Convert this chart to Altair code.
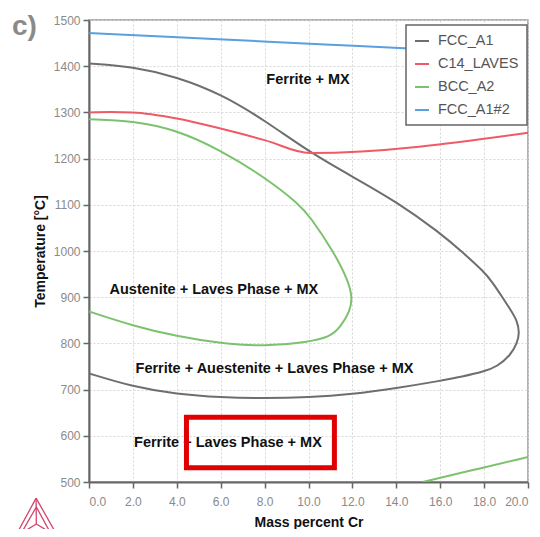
import altair as alt
import pandas as pd

# ---- data ----
fcc_x = [0, 2, 4, 6, 8, 10.07, 12, 14, 16, 17, 18, 18.4, 18.86, 19.2, 19.5, 19.62, 19.5, 19.2, 18.6, 18, 17, 16, 14, 12, 10, 8, 6, 4, 2, 0]
fcc_T = [1406, 1399, 1377, 1340, 1283, 1213, 1161, 1107, 1039, 998, 955, 931, 898, 873, 850, 823, 800, 774, 750, 739, 728, 719, 703, 690, 683, 681, 683, 690, 706, 735]

laves_x = [0, 1, 2, 4, 6, 8, 10.07, 20.0]
laves_T = [1300, 1301, 1300, 1287, 1265, 1240, 1212, 1256]

bcc_x = [0, 2, 4, 6, 8, 9.61, 10.07, 11.13, 11.8, 12.0, 11.9, 11.45, 10.98, 10, 8, 6, 4, 2, 0]
bcc_T = [1285, 1282, 1262, 1218, 1160, 1100, 1074, 1000, 937, 900, 870, 835, 814, 803, 793, 800, 815, 838, 869]
bcc2_x = [15.2, 17.5, 20.0]
bcc2_T = [500, 526, 554]

fcc2_x = [0, 4, 8.25, 12, 16, 20]
fcc2_T = [1472, 1463, 1453, 1444, 1435, 1426]

phases = ["FCC_A1", "C14_LAVES", "BCC_A2", "FCC_A1#2"]
phase_colors = ["#6e6e6e", "#ee5a66", "#7cc26e", "#5a9fe0"]

labels = ["Ferrite + MX", "Austenite + Laves Phase + MX",
          "Ferrite + Auestenite + Laves Phase + MX", "Ferrite + Laves Phase + MX"]
label_x = [9.98, 5.69, 8.45, 6.33]
label_T = [1370, 916, 744, 584]

box_x = [4.44, 11.18]
box_T = [531, 640]

logo_x = [-2.41, -3.37, -1.41, -2.41, -2.40, -3.05, -1.78, -2.40]
logo_T = [465, 381, 381, 465, 446, 392, 392, 446]
logo_g = [0, 0, 0, 0, 1, 1, 1, 1]
logo_spokes_x = [-2.41, -2.40, -3.37, -2.40, -1.41, -2.40]
logo_spokes_T = [465, 409, 381, 409, 381, 409]
logo_spokes_g = [0, 0, 1, 1, 2, 2]

# ---- tables ----
rows = []
def add(name, seg, xs, ts):
    for i, (a, b) in enumerate(zip(xs, ts)):
        rows.append({"phase": name, "seg": seg, "x": a, "T": b, "o": i})
add("FCC_A1", "fcc", fcc_x, fcc_T)
add("C14_LAVES", "laves", laves_x, laves_T)
add("BCC_A2", "bcc1", bcc_x, bcc_T)
add("BCC_A2", "bcc2", bcc2_x, bcc2_T)
add("FCC_A1#2", "fcc2", fcc2_x, fcc2_T)
lines_df = pd.DataFrame(rows)

xs = alt.Scale(domain=[0, 20], nice=False, zero=False)
ys = alt.Scale(domain=[500, 1500], nice=False, zero=False)
X = alt.X("x:Q", scale=xs, axis=alt.Axis(title="Mass percent Cr", values=list(range(0, 21, 2)),
                                           format=".1f"))
Y = alt.Y("T:Q", scale=ys, axis=alt.Axis(title="Temperature [°C]", values=list(range(500, 1501, 100)),
                                           format="d"))

smooth = lines_df[lines_df.seg != "laves"]
laves = lines_df[lines_df.seg == "laves"]

color = alt.Color("phase:N", scale=alt.Scale(domain=phases, range=phase_colors),
                  legend=alt.Legend(title=None, orient="none", legendX=317, legendY=5))

curves = alt.Chart(smooth).mark_line(strokeWidth=2, interpolate="basis", clip=True).encode(
    x=X, y=Y, color=color, detail="seg:N", order="o:Q")
laves_line = alt.Chart(laves).mark_line(strokeWidth=2, interpolate="monotone", clip=True).encode(
    x=X, y=Y, color=color, order="o:Q")

text_df = pd.DataFrame({"label": labels, "x": label_x, "T": label_T})
texts = alt.Chart(text_df).mark_text(fontWeight="bold", fontSize=14.5, font="Liberation Sans",
                                     color="#111", align="center", baseline="middle").encode(
    x="x:Q", y="T:Q", text="label:N")

box_df = pd.DataFrame({"x": [box_x[0]], "x2": [box_x[1]], "T": [box_T[0]], "T2": [box_T[1]]})
box = alt.Chart(box_df).mark_rect(fill=None, filled=False, stroke="#e00000", strokeWidth=5).encode(
    x="x:Q", x2="x2", y="T:Q", y2="T2")

logo_df = pd.DataFrame({"x": logo_x, "T": logo_T, "g": logo_g, "o": range(len(logo_x))})
logo = alt.Chart(logo_df).mark_line(stroke="#d2456f", strokeWidth=1.3, clip=False).encode(
    x="x:Q", y="T:Q", detail="g:N", order="o:Q")
sp_df = pd.DataFrame({"x": logo_spokes_x, "T": logo_spokes_T, "g": logo_spokes_g, "o": range(6)})
spokes = alt.Chart(sp_df).mark_line(stroke="#d2456f", strokeWidth=1.3, clip=False).encode(
    x="x:Q", y="T:Q", detail="g:N", order="o:Q")

tag = alt.Chart(pd.DataFrame({"t": ["c)"]})).mark_text(
    fontSize=28, fontWeight="bold", font="Liberation Sans", color="#8a8a8a", align="left",
    baseline="alphabetic").encode(x=alt.value(-77), y=alt.value(15), text="t:N")

chart = alt.layer(curves, laves_line, texts, box, logo, spokes, tag).properties(
    width=439, height=462,
    autosize=alt.AutoSizeParams(type="none"),
    padding={"left": 81, "top": 12, "right": 4, "bottom": 47},
).configure_view(stroke="#999999", strokeWidth=1.5).configure_axis(
    domainColor="#666666", domainWidth=2, tickColor="#666666", tickSize=6, tickWidth=1.5,
    labelColor="#8a8a8a", labelFontSize=12, labelFont="Liberation Sans",
    titleFont="Liberation Sans", titleFontSize=14, titleFontWeight="bold", titleColor="#111",
    gridColor="#d6d6d6", gridDash=[2, 2], gridWidth=1,
).configure_axisX(labelPadding=8, titlePadding=8).configure_axisY(labelPadding=3, titlePadding=6).configure_legend(
    fillColor="white", strokeColor="#666666", strokeWidth=1.5, padding=8,
    symbolType="stroke", symbolSize=196, symbolStrokeWidth=2, labelFontSize=14.5,
    labelFont="Liberation Sans", labelColor="#555555", labelOffset=8, rowPadding=8,
    labelLimit=200,
)

chart.save("out.html", embed_options={"renderer": "svg", "actions": False})
